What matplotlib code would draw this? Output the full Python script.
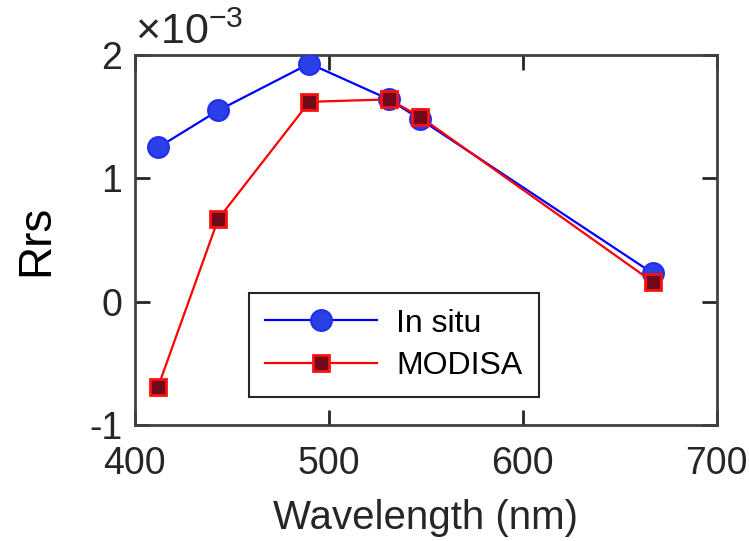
import matplotlib
matplotlib.use("Agg")
import matplotlib.pyplot as plt

plt.rcParams['font.family'] = ['Liberation Sans', 'DejaVu Sans']
plt.rcParams['mathtext.fontset'] = 'custom'
plt.rcParams['mathtext.rm'] = 'Liberation Sans'
plt.rcParams['mathtext.it'] = 'Liberation Sans'

wavelength = [412, 443, 490, 531, 547, 667]
in_situ = [1.25, 1.55, 1.93, 1.64, 1.48, 0.23]   # x 1e-3
modisa = [-0.69, 0.67, 1.62, 1.64, 1.50, 0.16]   # x 1e-3
xticks = [400, 500, 600, 700]
yticks = [-1, 0, 1, 2]

fig = plt.figure(figsize=(7.49, 5.41), dpi=100)
ax = fig.add_axes([0.180, 0.2144, 0.777, 0.684])

ax.plot(wavelength, in_situ, '-o', color='#0000ff', lw=1.6, ms=15,
        mfc='#2a3fe6', mec='#1f2ff0', mew=1.5, label='In situ', zorder=3)
ax.plot(wavelength, modisa, '-s', color='#ff0000', lw=1.6, ms=11,
        mfc='#6e0a1a', mec='#ff1010', mew=2, label='MODISA', zorder=4)

ax.set_xlim(400, 700)
ax.set_ylim(-1, 2)
ax.set_xticks(xticks)
ax.set_yticks(yticks)
ax.set_yticklabels([str(v) for v in yticks])

ax.tick_params(direction='in', length=11, width=2, colors='#262626',
               labelsize=27, top=True, right=True)
ax.tick_params(axis='x', pad=15)
ax.tick_params(axis='y', pad=9)
for s in ax.spines.values():
    s.set_linewidth(2)
    s.set_color('#404040')

ax.set_xlabel('Wavelength (nm)', fontsize=29, color='#262626', labelpad=12)
ax.set_ylabel('Rrs', fontsize=33, color='black', labelpad=22)

ax.text(0.0, 1.005, r'$\times10^{-3}$', transform=ax.transAxes,
        fontsize=31, color='#262626', ha='left', va='bottom')

leg = ax.legend(loc='lower left', bbox_to_anchor=(0.197, 0.075),
                fontsize=23, handlelength=3.5, fancybox=False,
                edgecolor='#262626', framealpha=1, borderpad=0.5,
                labelspacing=0.4, handletextpad=0.6, borderaxespad=0)
leg.get_frame().set_linewidth(1.5)

fig.savefig('out.png', dpi=100)
